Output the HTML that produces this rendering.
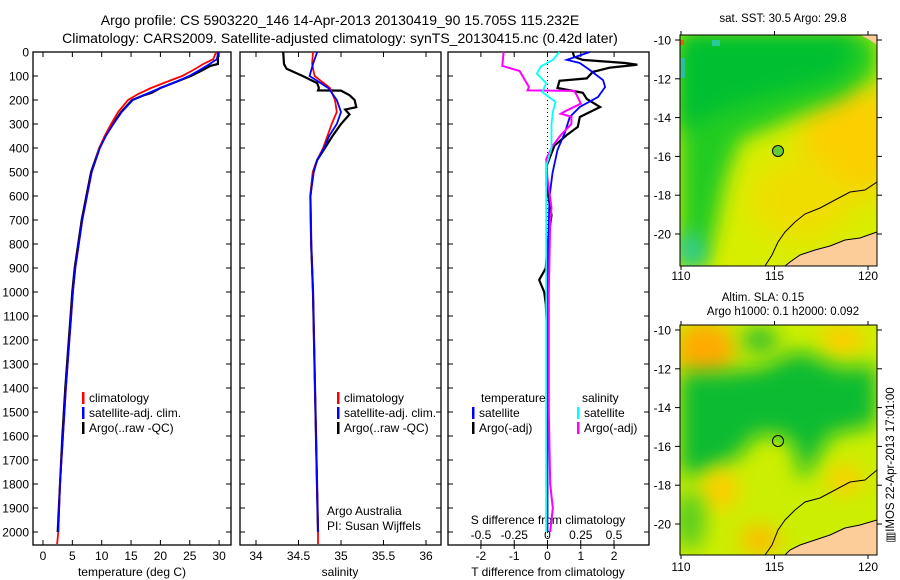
<!DOCTYPE html>
<html><head><meta charset="utf-8">
<style>
html,body{margin:0;padding:0;background:#fff;}
svg{display:block;font-family:"Liberation Sans",sans-serif;}
text{fill:#000;}
</style></head>
<body>
<svg id="c" width="900" height="580" viewBox="0 0 900 580" xmlns="http://www.w3.org/2000/svg">
<defs>
<filter id="bl1" x="-50%" y="-50%" width="200%" height="200%"><feGaussianBlur stdDeviation="14"/></filter>
<filter id="bl2" x="-50%" y="-50%" width="200%" height="200%"><feGaussianBlur stdDeviation="10"/></filter>
<clipPath id="m1c"><rect x="680" y="35" width="197" height="231"/></clipPath>
<clipPath id="m2c"><rect x="680" y="325" width="197" height="230"/></clipPath>
</defs>
<text x="340" y="25" font-size="14" text-anchor="middle">Argo profile: CS 5903220_146 14-Apr-2013 20130419_90 15.705S 115.232E</text>
<text x="340" y="43" font-size="14" text-anchor="middle">Climatology: CARS2009. Satellite-adjusted climatology: synTS_20130415.nc (0.42d later)</text>

<!-- map 1 -->
<g clip-path="url(#m1c)">
<rect x="680" y="35" width="197" height="231" fill="#d8ee00"/>
<ellipse cx="850" cy="140" rx="50" ry="60" fill="#ffcc00" filter="url(#bl1)" opacity="0.9"/>
<ellipse cx="800" cy="200" rx="50" ry="40" fill="#f0dd00" filter="url(#bl1)"/>
<polygon points="680,35 877,35 877,75 840,100 800,115 770,128 740,140 725,180 715,230 705,266 680,266" fill="#22cc22" filter="url(#bl2)"/>
<polygon points="680,35 860,35 840,75 790,90 750,100 710,115 680,135" fill="#00c030" filter="url(#bl2)"/>
<polygon points="680,232 700,237 705,266 680,266" fill="#33ccaa" filter="url(#bl2)"/>
<rect x="680" y="58" width="5" height="20" fill="#33bbbb" opacity="0.7"/>
<rect x="712" y="40" width="8" height="6" fill="#33cccc" opacity="0.7"/>
<rect x="680" y="40" width="4" height="5" fill="#dd6600"/>
<polygon points="877,232 860,238 845,240 830,246 815,250 800,255 790,262 785,266 877,266" fill="#fccc99"/>
<polygon points="860,35 877,35 877,45 870,40" fill="#fccc99"/>
<polyline points="877,182 865,190 850,192 835,200 820,208 805,214 795,222 785,232 778,242 772,255 765,266" fill="none" stroke="#000" stroke-width="1"/>
<polyline points="877,232 860,238 845,240 830,246 815,250 800,255 790,262 785,266" fill="none" stroke="#000" stroke-width="1"/>
<circle cx="778" cy="151" r="5.5" fill="#66cc33" stroke="#000" stroke-width="1"/>
</g>
<rect x="680" y="35" width="197" height="231" fill="none" stroke="#000"/>
<text x="783" y="22" font-size="11.5" text-anchor="middle">sat. SST: 30.5 Argo: 29.8</text>

<!-- map 2 -->
<g clip-path="url(#m2c)">
<rect x="680" y="325" width="197" height="230" fill="#ccee00"/>
<ellipse cx="705" cy="350" rx="30" ry="28" fill="#ffaa00" filter="url(#bl2)"/>
<ellipse cx="843" cy="340" rx="22" ry="15" fill="#ffcc00" filter="url(#bl2)"/>
<polygon points="680,372 720,372 760,368 800,350 840,368 877,365 877,425 830,435 810,470 800,480 795,445 780,435 755,435 740,455 700,475 680,475" fill="#11bb33" filter="url(#bl2)"/>
<ellipse cx="760" cy="340" rx="18" ry="12" fill="#22bb33" filter="url(#bl2)"/>
<ellipse cx="845" cy="480" rx="18" ry="14" fill="#ffcc00" filter="url(#bl2)"/>
<ellipse cx="720" cy="490" rx="18" ry="20" fill="#ffcc00" filter="url(#bl2)"/>
<ellipse cx="760" cy="540" rx="20" ry="14" fill="#ffbb00" filter="url(#bl2)"/>
<ellipse cx="690" cy="520" rx="15" ry="30" fill="#55cc22" filter="url(#bl2)"/>
<polygon points="877,520 860,525 845,528 830,535 815,540 800,545 790,550 785,555 877,555" fill="#fccc99"/>
<polyline points="877,470 865,480 850,482 835,490 820,498 805,502 795,510 785,520 778,530 772,545 765,555" fill="none" stroke="#000"/>
<polyline points="877,520 860,525 845,528 830,535 815,540 800,545 790,550 785,555" fill="none" stroke="#000"/>
<circle cx="778" cy="441" r="5.5" fill="none" stroke="#000"/>
</g>
<rect x="680" y="325" width="197" height="230" fill="none" stroke="#000"/>
<text x="763" y="301" font-size="11.5" text-anchor="middle">Altim. SLA: 0.15</text>
<text x="783" y="315" font-size="11.5" text-anchor="middle">Argo h1000: 0.1 h2000: 0.092</text>
<text transform="translate(894,465) rotate(-90)" font-size="11.5" text-anchor="middle">▥IMOS 22-Apr-2013 17:01:00</text>
<g id="plots"></g>
</svg>
<script>
// ---- data ----
const depthTicks=[0,100,200,300,400,500,600,700,800,900,1000,1100,1200,1300,1400,1500,1600,1700,1800,1900,2000];
const tempTicks=[0,5,10,15,20,25,30];
const salTicks=[34,34.5,35,35.5,36];
const tdTicks=[-2,-1,0,1,2];
const sdTicks=[-0.5,-0.25,0,0.25,0.5];
const sdTickLabels=["-0.5","-0.25","0","0.25","0.5"];
const mapLatTicks=[-10,-12,-14,-16,-18,-20];
const mapLonTicks=[110,115,120];

const tClimDepth=[0,30,50,75,100,125,150,175,200,250,300,350,400,500,600,700,800,900,1000,1100,1200,1400,1600,1800,2000,2050];
const tClim=[29.5,29,27.3,25.6,23.7,21,18.4,16.2,14.5,12.8,11.6,10.5,9.6,8.3,7.5,6.7,6.1,5.5,5.1,4.8,4.5,3.9,3.4,2.9,2.6,2.4];
const tSatDepth=[0,30,50,75,100,125,150,175,200,250,300,350,400,500,600,700,800,900,1000,1100,1200,1400,1600,1800,2000];
const tSat=[29.9,29.6,28.4,26.7,24.9,22.6,20,17.6,15.3,13.4,12.0,10.7,9.7,8.3,7.5,6.7,6.1,5.5,5.1,4.8,4.5,3.9,3.4,2.9,2.6];
const tArgoDepth=[0,50,58,75,100,125,150,170,180,200,250,300,350,400,500,600,700,800,900,1000,1100,1200,1400,1600,1800,2000];
const tArgo=[29.8,29.8,28.5,27.2,25.2,22.6,20,18.5,17.2,15.2,13.3,11.9,10.6,9.6,8.2,7.4,6.6,6,5.4,5,4.7,4.4,3.8,3.3,2.9,2.5];

const sClimDepth=[0,50,100,150,200,250,300,350,400,450,500,600,800,1000,1500,2000,2050];
const sClim=[34.67,34.66,34.69,34.87,34.93,34.95,34.89,34.84,34.79,34.72,34.67,34.64,34.65,34.67,34.70,34.73,34.73];
const sSatDepth=[0,50,100,150,200,250,300,350,400,450,500,600,800,1000,1500,2000];
const sSat=[34.72,34.67,34.63,34.85,34.95,35.0,34.95,34.86,34.8,34.72,34.68,34.64,34.65,34.67,34.70,34.73];
const sArgoDepth=[0,50,70,100,130,150,160,161,180,200,230,240,260,300,350,400,450,500,600,800,1000,1500,2000];
const sArgo=[34.32,34.33,34.36,34.55,34.72,34.74,34.73,35.0,35.1,35.16,35.18,35.05,35.1,35.0,34.9,34.81,34.72,34.67,34.64,34.65,34.67,34.70,34.73];

const tdSatDepth=[0,33,46,75,117,146,187,229,271,337,408,504,604,800,1000,1500,2000];
const tdSat=[1.27,0.58,0.97,1.27,1.67,1.73,1.52,0.97,0.67,0.52,0.3,0.15,0.06,0.02,0.0,0.0,0.0];
const tdArgoDepth=[0,20,33,46,53,65,83,110,120,150,170,196,229,271,312,346,390,475,558,680,800,900,950,1000,1050,1200,1500,2000];
const tdArgo=[0.76,0.8,1.06,2.33,2.7,1.88,1.36,1.18,0.36,0.3,1.06,1.18,1.58,0.97,0.91,0.58,0.21,-0.03,-0.03,0.12,0.0,-0.05,-0.25,-0.1,-0.05,0.0,-0.02,-0.02];
const sdSatDepth=[0,33,60,90,130,167,208,250,300,400,475,700,1000,1500,2000];
const sdSat=[0.09,0.04,-0.05,-0.08,-0.01,-0.04,0.06,0.04,0.03,0.03,-0.01,-0.01,-0.01,-0.01,-0.01];
const sdArgoDepth=[0,58,79,117,145,160,162,180,215,245,257,270,300,346,390,446,530,650,700,1000,1500,1800,1900,2000];
const sdArgo=[-0.33,-0.34,-0.21,-0.17,-0.14,-0.15,0.2,0.22,0.25,0.14,0.1,0.18,0.18,0.1,0.04,-0.01,0.0,0.03,0.02,0.01,0.01,0.02,0.04,0.02];

// ---- axes ----
const NS="http://www.w3.org/2000/svg";
const root=document.getElementById('plots');
const top0=52, bot=545;
function yD(d){return top0+d*0.24;}
function el(tag,attrs,parent){const e=document.createElementNS(NS,tag);for(const k in attrs)e.setAttribute(k,attrs[k]);(parent||root).appendChild(e);return e;}
function txt(x,y,s,size,anchor,parent){const t=el('text',{x:x,y:y,'font-size':size,'text-anchor':anchor||'middle'},parent);t.textContent=s;return t;}
const xT=v=>43+v*5.87;
const xS=v=>256+(v-34)*85;
const xTD=v=>547.5+v*33.3;
const xSD=v=>547.5+v*133;
function line(xs,ds,xf,color,w,name,g){
  const pts=xs.map((v,i)=>xf(v).toFixed(1)+','+yD(ds[i]).toFixed(1)).join(' ');
  const p=el('polyline',{points:pts,fill:'none',stroke:color,'stroke-width':w,'stroke-linejoin':'miter'},g);
  
  
}
function panel(x0,x1,name,showDepth){
  const g=el('g',{});
  
  
  el('rect',{x:x0,y:top0,width:x1-x0,height:bot-top0,fill:'none',stroke:'#000','stroke-width':1.3},g);
  depthTicks.forEach(d=>{
    el('line',{x1:x0,x2:x0+5,y1:yD(d),y2:yD(d),stroke:'#000'},g);
    el('line',{x1:x1-5,x2:x1,y1:yD(d),y2:yD(d),stroke:'#000'},g);
    if(showDepth){const t=txt(x0-4,yD(d)+4.5,String(d),12,'end',g);
      
      }
  });
  return g;
}
// panel 1
const g1=panel(33,231,'temperature-panel',true);
tempTicks.forEach(v=>{el('line',{x1:xT(v),x2:xT(v),y1:bot,y2:bot-5,stroke:'#000'},g1);el('line',{x1:xT(v),x2:xT(v),y1:top0,y2:top0+5,stroke:'#000'},g1);
  const t=txt(xT(v),560,String(v),12,'middle',g1);
  
  });
txt(132,576,'temperature (deg C)',12,'middle',g1);
line(tArgo,tArgoDepth,xT,'#000',2.2,'temp-argo-line',g1);
line(tClim,tClimDepth,xT,'#f00',1.8,'temp-climatology-line',g1);
line(tSat,tSatDepth,xT,'#00f',1.8,'temp-satellite-line',g1);
// panel 2
const g2=panel(240,441,'salinity-panel',false);
salTicks.forEach(v=>{el('line',{x1:xS(v),x2:xS(v),y1:bot,y2:bot-5,stroke:'#000'},g2);el('line',{x1:xS(v),x2:xS(v),y1:top0,y2:top0+5,stroke:'#000'},g2);
  const t=txt(xS(v),560,String(v),12,'middle',g2);
  
  });
txt(340,576,'salinity',12,'middle',g2);
line(sArgo,sArgoDepth,xS,'#000',2.2,'salinity-argo-line',g2);
line(sClim,sClimDepth,xS,'#f00',1.8,'salinity-climatology-line',g2);
line(sSat,sSatDepth,xS,'#00f',1.8,'salinity-satellite-line',g2);
// panel 3
const g3=panel(448,649,'difference-panel',false);
el('line',{x1:xTD(0),x2:xTD(0),y1:top0,y2:bot,stroke:'#000','stroke-dasharray':'1,3'},g3);
tdTicks.forEach(v=>{el('line',{x1:xTD(v),x2:xTD(v),y1:top0,y2:top0+5,stroke:'#000'},g3);el('line',{x1:xTD(v),x2:xTD(v),y1:bot,y2:bot+4,stroke:'#000'},g3);
  const t=txt(xTD(v),560,String(v),12,'middle',g3);
  
  });
sdTicks.forEach((v,i)=>{el('line',{x1:xSD(v),x2:xSD(v),y1:bot,y2:bot-5,stroke:'#000'},g3);
  const t=txt(xSD(v),539,sdTickLabels[i],12,'middle',g3);
  
  });
txt(548,524,'S difference from climatology',12,'middle',g3);
txt(548,576,'T difference from climatology',12,'middle',g3);
line(tdArgo,tdArgoDepth,xTD,'#000',2.2,'tdiff-argo-line',g3);
line(tdSat,tdSatDepth,xTD,'#00f',1.8,'tdiff-satellite-line',g3);
line(sdArgo,sdArgoDepth,xSD,'#f0f',2,'sdiff-argo-line',g3);
line(sdSat,sdSatDepth,xSD,'#0ff',1.8,'sdiff-satellite-line',g3);

// legends
function leg(x,y,color,label,g){
  el('rect',{x:x,y:y-10,width:2.5,height:12,fill:color},g);
  const t=txt(x+7,y,label,12,'start',g);
  
  
}
[[g1,82],[g2,337]].forEach(([g,x])=>{leg(x,402,'#f00','climatology',g);leg(x,417,'#00f','satellite-adj. clim.',g);leg(x,432,'#000','Argo(..raw -QC)',g);});
txt(481,402,'temperature',12,'start',g3);
txt(582,402,'salinity',12,'start',g3);
leg(472,417,'#00f','satellite',g3);leg(472,432,'#000','Argo(-adj)',g3);
leg(577,417,'#0ff','satellite',g3);leg(577,432,'#f0f','Argo(-adj)',g3);
txt(327,515,'Argo Australia',12,'start',g2);
txt(327,530,'PI: Susan Wijffels',12,'start',g2);

// map ticks
const mlon=v=>681+(v-110)*18.7;
[[40,266,275],[330,555,566]].forEach(([y10,yb,ly],mi)=>{
  const g=el('g',{});
  
  
  const yt=mi?325:35;
  mapLatTicks.forEach(v=>{const y=y10+(-10-v)*19.4;
    el('line',{x1:680,x2:675,y1:y,y2:y,stroke:'#000'},g);el('line',{x1:877,x2:882,y1:y,y2:y,stroke:'#000'},g);
    txt(671,y+4.5,String(v),12,'end',g);});
  mapLonTicks.forEach(v=>{const x=mlon(v);
    el('line',{x1:x,x2:x,y1:yb,y2:yb+4,stroke:'#000'},g);el('line',{x1:x,x2:x,y1:yt,y2:yt-4,stroke:'#000'},g);
    txt(x,ly+5,String(v),12,'middle',g);});
});
</script>
</body></html>
